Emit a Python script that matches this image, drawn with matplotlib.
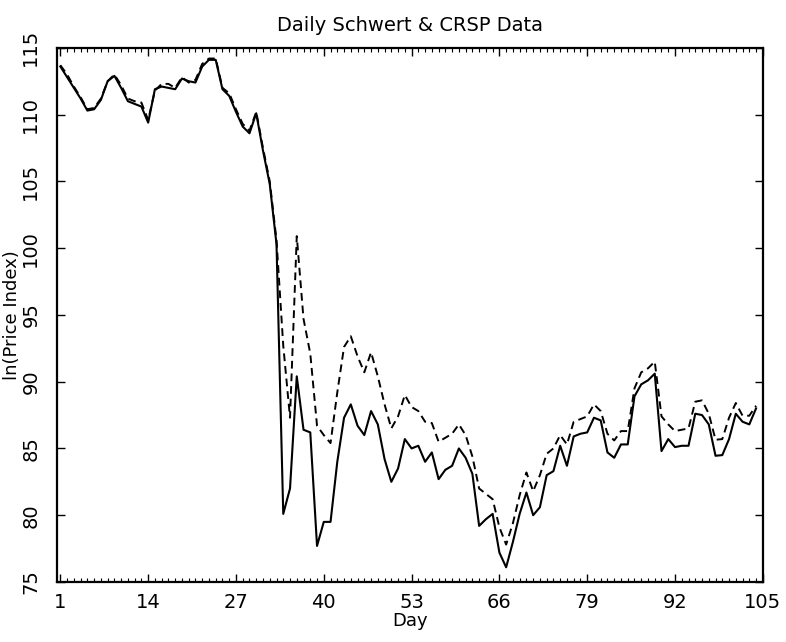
import numpy as np
import matplotlib
matplotlib.use("Agg")
import matplotlib.pyplot as plt
from matplotlib.ticker import MultipleLocator

# one value per trading day
days = np.arange(1, 105)

schwert = [
    113.6, 112.8, 112.0, 111.2, 110.3, 110.4, 111.1, 112.5, 112.9, 112.0,
    111.0, 110.8, 110.6, 109.4, 111.9, 112.1, 112.0, 111.9, 112.7, 112.5,
    112.4, 113.6, 114.1, 114.1, 111.9, 111.4, 110.2, 109.1, 108.6, 110.1,
    107.3, 104.8, 100.3, 80.1, 82.0, 90.4, 86.4, 86.2, 77.7, 79.5,
    79.5, 84.0, 87.3, 88.3, 86.7, 86.0, 87.8, 86.8, 84.2, 82.5,
    83.5, 85.7, 85.0, 85.2, 84.0, 84.7, 82.7, 83.4, 83.7, 85.0,
    84.3, 83.1, 79.2, 79.7, 80.1, 77.2, 76.1, 78.0, 80.1, 81.7,
    80.0, 80.6, 83.0, 83.3, 85.2, 83.7, 85.9, 86.1, 86.2, 87.3,
    87.1, 84.7, 84.3, 85.3, 85.3, 88.9, 89.8, 90.1, 90.6, 84.8,
    85.7, 85.1, 85.2, 85.2, 87.6, 87.5, 86.8, 84.45, 84.5, 85.7,
    87.6, 87.0, 86.8, 88.0,
]

crsp = [
    113.7, 113.0, 112.1, 111.3, 110.4, 110.5, 111.2, 112.5, 113.0, 112.2,
    111.2, 111.0, 110.9, 109.6, 111.8, 112.3, 112.3, 112.0, 112.8, 112.4,
    112.6, 113.8, 114.2, 114.2, 112.0, 111.6, 110.4, 109.3, 108.8, 110.2,
    107.5, 105.0, 100.6, 92.7, 87.3, 100.9, 94.7, 92.1, 86.7, 86.0,
    85.4, 89.2, 92.6, 93.4, 91.9, 90.7, 92.2, 90.4, 88.3, 86.5,
    87.4, 89.0, 88.1, 87.8, 87.0, 86.9, 85.5, 85.8, 86.1, 86.8,
    86.0, 84.4, 82.0, 81.6, 81.2, 79.1, 77.8, 79.4, 81.5, 83.2,
    81.8, 83.0, 84.6, 85.0, 86.0, 85.3, 87.0, 87.2, 87.4, 88.3,
    87.8, 86.1, 85.6, 86.3, 86.3, 89.5, 90.7, 91.0, 91.5, 87.4,
    86.8, 86.3, 86.4, 86.5, 88.5, 88.6, 87.6, 85.65, 85.7, 87.3,
    88.4, 87.45, 87.45, 88.2,
]

xticks = [1, 14, 27, 40, 53, 66, 79, 92, 105]
yticks = [75, 80, 85, 90, 95, 100, 105, 110, 115]

fig = plt.figure(figsize=(7.86, 6.42), dpi=100)
ax = fig.add_axes([0.0725, 0.0935, 0.898, 0.832])

ax.plot(days, schwert, color="black", linewidth=1.5)
ax.plot(days, crsp, color="black", linewidth=1.4, linestyle=(0, (4, 2.5)))

ax.set_xlim(0.5, 105)
ax.set_ylim(75, 115)
ax.set_xticks(xticks)
ax.set_yticks(yticks)
ax.xaxis.set_minor_locator(MultipleLocator(1))

ax.tick_params(axis="both", which="major", direction="in", length=6, width=1,
               top=True, right=True, labelsize=14)
ax.tick_params(axis="x", which="minor", direction="in", length=3, width=0.8,
               top=True, bottom=True)
ax.tick_params(axis="x", which="major", pad=8)
ax.tick_params(axis="y", which="major", pad=12)
for lab in ax.get_yticklabels():
    lab.set_rotation(90)
    lab.set_va("center")

for sp in ax.spines.values():
    sp.set_linewidth(1.6)

ax.set_title("Daily Schwert & CRSP Data", fontsize=14, pad=12)
ax.set_xlabel("Day", fontsize=13, labelpad=0)
ax.set_ylabel("ln(Price Index)", fontsize=13, labelpad=0)

fig.savefig("out.png", dpi=100)
